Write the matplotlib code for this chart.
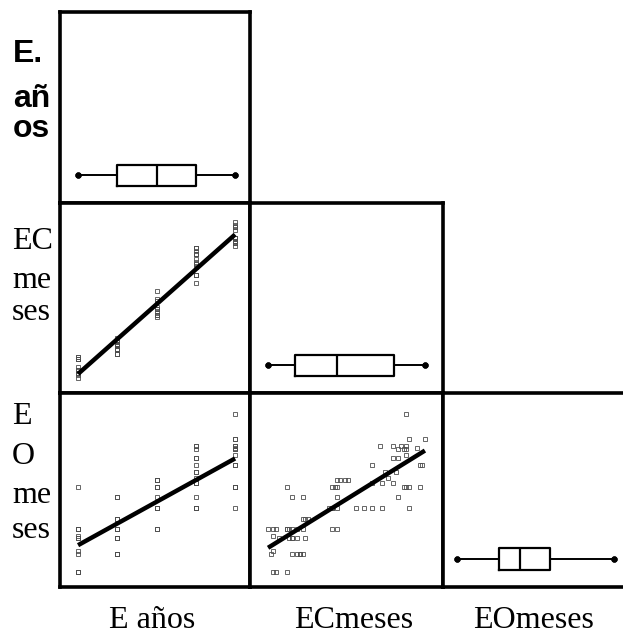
import matplotlib
matplotlib.use("Agg")
import matplotlib.pyplot as plt
import numpy as np

# edad en años, edad cronológica y edad observada en meses (un sujeto por posición)
edad = [11, 10, 10, 11, 11, 11, 11, 10, 11, 11, 11, 11, 10, 10, 11, 11, 10, 10, 10, 10,
        10, 10, 10, 11, 11, 11, 11, 9, 9, 9, 9, 9, 9, 9, 7, 8, 8, 9, 10, 9,
        9, 9, 9, 10, 10, 10, 11, 8, 8, 8, 7, 7, 7, 7, 7, 8, 8, 8, 9, 9,
        7, 7, 7, 8, 8, 8, 7, 7, 8, 8, 8, 8, 7, 7, 7, 7, 8, 9, 8]
ec_meses = [136, 126, 131, 134, 136, 137, 143, 133, 135, 136, 140, 136, 131, 133, 141, 142, 123, 128, 132, 129,
            123, 127, 131, 135, 136, 137, 141, 110, 111, 113, 114, 108, 109, 110, 91, 93, 97, 110, 133, 107,
            108, 110, 117, 120, 123, 127, 137, 97, 98, 99, 84, 86, 87, 91, 92, 93, 95, 97, 108, 110,
            86, 88, 92, 93, 95, 98, 86, 85, 93, 95, 96, 97, 86, 87, 91, 91, 96, 108, 93]
eo_meses = [149, 131, 131, 131, 131, 135, 135, 129, 129, 129, 130, 126, 124, 124, 120, 120, 120, 116, 116, 113,
            110, 110, 110, 108, 108, 108, 108, 112, 112, 112, 112, 108, 108, 108, 108, 102, 102, 102, 102, 96,
            96, 96, 96, 96, 96, 96, 96, 90, 90, 90, 84, 84, 84, 84, 84, 84, 84, 84, 84, 84,
            80, 79, 79, 79, 79, 79, 72, 70, 70, 70, 70, 70, 60, 60, 60, 84, 70, 96, 79]

etiquetas = ["E años", "ECmeses", "EOmeses"]

W, H = 623, 636
fig = plt.figure(figsize=(W / 100, H / 100), dpi=100)

cols = [60, 250, 443, 636]
rows = [12, 203, 393, 587]
lim_x = [(6.54, 11.38), (77.2, 149.8), (52.1, 161.5)]
lim_y = [(0, 1), (78.3, 150.2), (51.6, 160.7)]
datos = [np.array(edad), np.array(ec_meses), np.array(eo_meses)]


def panel(i, j):
    ax = fig.add_axes([cols[j] / W, 1 - rows[i + 1] / H,
                       (cols[j + 1] - cols[j]) / W, (rows[i + 1] - rows[i]) / H])
    for s in ax.spines.values():
        s.set_linewidth(2.6)
        s.set_color("black")
    return ax


for i in range(3):
    for j in range(i + 1):
        ax = panel(i, j)
        if i == j:
            ax.boxplot(datos[i], orientation="horizontal", positions=[0.145], widths=0.11,
                       whis=(0, 100), showfliers=False, capwidths=0.0001, manage_ticks=False,
                       boxprops=dict(color="black", linewidth=1.6),
                       medianprops=dict(color="black", linewidth=1.6),
                       whiskerprops=dict(color="black", linewidth=1.4),
                       capprops=dict(color="black", marker="o", markersize=3.5,
                                     markerfacecolor="black", linewidth=0))
            ax.set_ylim(0, 1)
            if j == 2:
                ax.spines["right"].set_visible(False)
        else:
            x, y = datos[j], datos[i]
            ax.plot(x, y, "s", ms=3.5, mfc="none", mec="0.3", mew=0.6)
            b, a = np.polyfit(x, y, 1)
            xs = np.array([x.min(), x.max()])
            ax.plot(xs, a + b * xs, color="black", lw=3.2, solid_capstyle="butt")
            ax.set_ylim(*lim_y[i])
        ax.set_xlim(*lim_x[j])
        ax.set_xticks([])
        ax.set_yticks([])

# nombres de filas a la izquierda
fila_txt = [
    (["E.", "añ", "os"], [62, 107, 137], "Liberation Sans", "bold", 13),
    (["EC", "me", "ses"], [249, 288, 320], "Liberation Serif", "normal", 12),
    (["E", "O", "me", "ses"], [424, 464, 503, 538], "Liberation Serif", "normal", 12),
]
for lineas, bases, fam, peso, x0 in fila_txt:
    for t, yb in zip(lineas, bases):
        fig.text(x0 / W, 1 - yb / H, t, fontsize=23, family=fam, weight=peso,
                 va="baseline", ha="left")

# nombres de columnas abajo
for t, xc in zip(etiquetas, [152, 354, 533]):
    fig.text(xc / W, 1 - 628 / H, t, fontsize=23, family="Liberation Serif",
             va="baseline", ha="center")

fig.savefig("out.png", dpi=100)
